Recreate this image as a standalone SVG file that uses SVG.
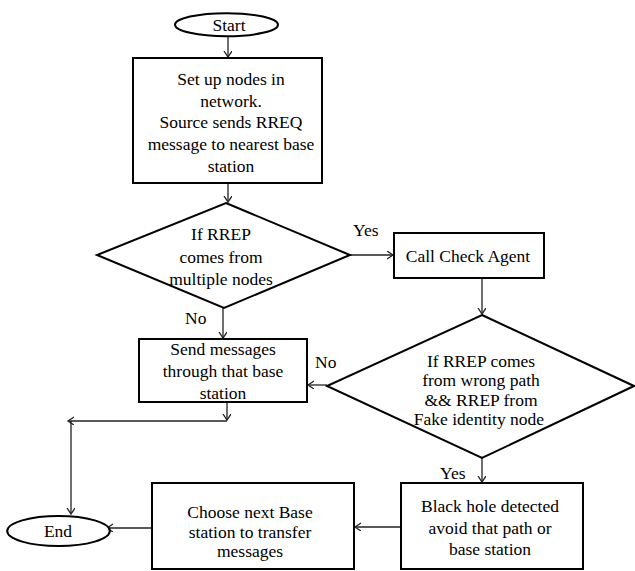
<svg xmlns="http://www.w3.org/2000/svg" width="635" height="571" viewBox="0 0 635 571">
<defs>
<style>
.shape{fill:#fff;stroke:#000;stroke-width:2}
.conn{fill:none;stroke:#222;stroke-width:1.3}
text{font-family:'Liberation Serif','DejaVu Serif',serif;font-size:17.5px;fill:#000}
.c{text-anchor:middle}
</style>
<marker id="arr" markerUnits="userSpaceOnUse" markerWidth="10" markerHeight="10" refX="6" refY="4" orient="auto">
<path d="M0,0 L6,4 L0,8" fill="none" stroke="#222" stroke-width="1.3"/>
</marker>
</defs>
<rect width="635" height="571" fill="#fff"/>
<g font-family="Liberation Serif, DejaVu Serif, serif">
<g id="connectors">
<line class="conn" x1="228" y1="37" x2="228" y2="57" marker-end="url(#arr)"/>
<line class="conn" x1="228" y1="184" x2="228" y2="202" marker-end="url(#arr)"/>
<line class="conn" x1="350" y1="255" x2="393" y2="255" marker-end="url(#arr)"/>
<line class="conn" x1="223" y1="308" x2="223" y2="338" marker-end="url(#arr)"/>
<line class="conn" x1="482" y1="278" x2="482" y2="314" marker-end="url(#arr)"/>
<line class="conn" x1="327" y1="385" x2="308" y2="385" marker-end="url(#arr)"/>
<line class="conn" x1="482" y1="458" x2="482" y2="482" marker-end="url(#arr)"/>
<line class="conn" x1="401" y1="527" x2="355" y2="527" marker-end="url(#arr)"/>
<line class="conn" x1="152" y1="528" x2="107" y2="528" marker-end="url(#arr)"/>
<line class="conn" x1="227" y1="402" x2="227" y2="420" marker-end="url(#arr)"/>
<line class="conn" x1="227" y1="421" x2="68" y2="421" marker-end="url(#arr)"/>
<line class="conn" x1="71" y1="421" x2="71" y2="514" marker-end="url(#arr)"/>
<text x="185" y="324">No</text>
<text x="353" y="236">Yes</text>
<text x="315" y="368">No</text>
<text x="440" y="479">Yes</text>
</g>
<g id="start">
<ellipse class="shape" cx="226.5" cy="24.7" rx="51.5" ry="11.5"/>
<text class="c" x="229" y="31">Start</text>
</g>
<g id="setup">
<rect class="shape" x="133" y="58" width="189" height="125"/>
<text class="c" x="231"><tspan x="231" y="85">Set up nodes in</tspan><tspan x="231" y="106.7">network.</tspan><tspan x="231" y="128.3">Source sends RREQ</tspan><tspan x="231" y="150">message to nearest base</tspan><tspan x="231" y="171.7">station</tspan></text>
</g>
<g id="decision1">
<polygon class="shape" points="226,203 350,255 224,308 97,255"/>
<text class="c" x="221"><tspan x="221" y="240">If RREP</tspan><tspan x="221" y="262.5">comes from</tspan><tspan x="221" y="284.5">multiple nodes</tspan></text>
</g>
<g id="checkagent">
<rect class="shape" x="394" y="233" width="150" height="45"/>
<text class="c" x="468" y="262">Call Check Agent</text>
</g>
<g id="decision2">
<polygon class="shape" points="482,315 634,386 482,458 327,386"/>
<text class="c" x="481"><tspan x="481" y="366.5">If RREP comes</tspan><tspan x="481" y="386">from wrong path</tspan><tspan x="481" y="405.5">&amp;&amp; RREP from</tspan><tspan x="479" y="425">Fake identity node</tspan></text>
</g>
<g id="send">
<rect class="shape" x="139" y="339" width="168" height="63"/>
<text class="c" x="223"><tspan x="223" y="355">Send messages</tspan><tspan x="223" y="377">through that base</tspan><tspan x="223" y="399">station</tspan></text>
</g>
<g id="blackhole">
<rect class="shape" x="401" y="483" width="182" height="86"/>
<text class="c" x="490"><tspan x="490" y="512">Black hole detected</tspan><tspan x="490" y="533.5">avoid that path or</tspan><tspan x="490" y="555">base station</tspan></text>
</g>
<g id="choose">
<rect class="shape" x="152" y="483" width="202" height="86"/>
<text class="c" x="250"><tspan x="250" y="518">Choose next Base</tspan><tspan x="250" y="538">station to transfer</tspan><tspan x="250" y="557">messages</tspan></text>
</g>
<g id="end">
<ellipse class="shape" cx="58.5" cy="531" rx="51.3" ry="15"/>
<text class="c" x="58" y="537">End</text>
</g>
</g>
</svg>
